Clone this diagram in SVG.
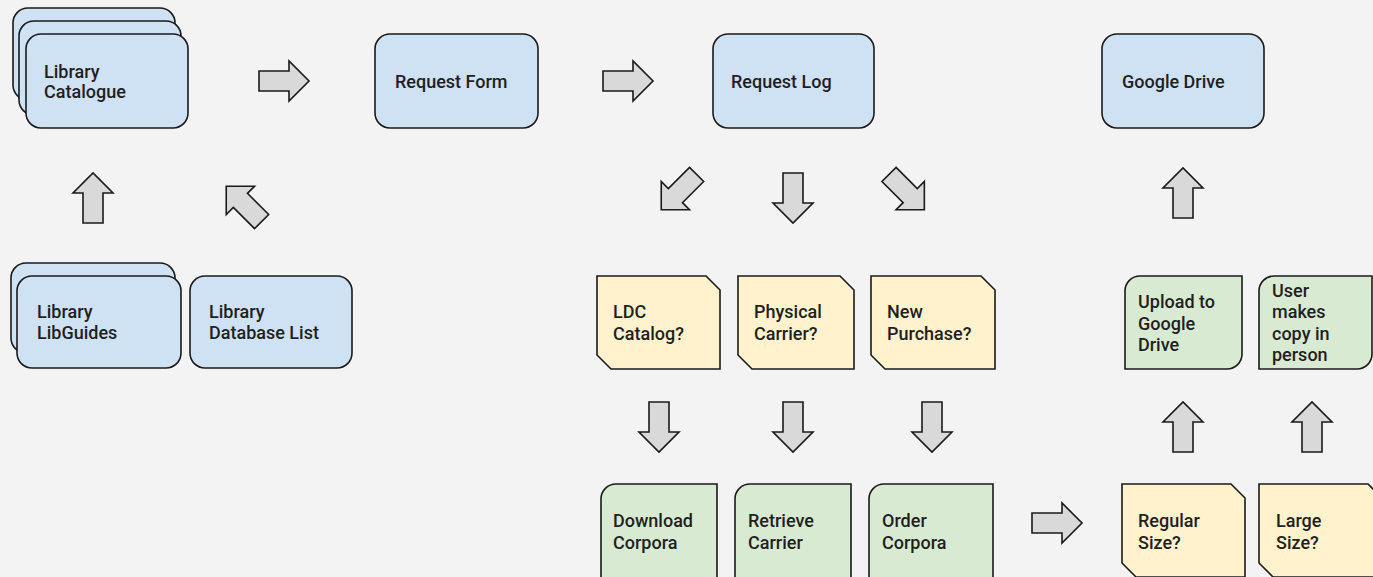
<svg xmlns="http://www.w3.org/2000/svg" xmlns:xlink="http://www.w3.org/1999/xlink" width="1373" height="577" viewBox="0 0 1373 577">
  <defs>
    <style>
      .blue { fill: #cfe2f3; stroke: #1a1a1a; stroke-width: 1.6; }
      .yellow { fill: #fff2cc; stroke: #1a1a1a; stroke-width: 1.6; }
      .green { fill: #d9ead3; stroke: #1a1a1a; stroke-width: 1.6; }
      .arrow { fill: #d9d9d9; stroke: #1a1a1a; stroke-width: 1.6; stroke-linejoin: miter; }
      text { font-family: Roboto, "Liberation Sans", sans-serif; font-weight: 500; font-size: 18px; fill: #1f1f1f; }
    </style>
    <!-- block arrow pointing right; origin at the middle of its tail -->
    <path id="blk" class="arrow" d="M0,-10 H30 V-20 L50,0 L30,20 V10 H0 Z"/>
  </defs>

  <rect width="1373" height="577" fill="#f3f3f3"/>

  <!-- top row -->
  <g id="library-catalogue">
    <rect class="blue" x="13" y="8" width="162" height="92" rx="15"/>
    <rect class="blue" x="19" y="21" width="162" height="94" rx="15"/>
    <rect class="blue" x="26" y="34" width="162" height="94" rx="15"/>
    <text x="44" y="78">Library</text>
    <text x="44" y="98">Catalogue</text>
  </g>
  <g id="request-form">
    <rect class="blue" x="375" y="34" width="163" height="94" rx="15"/>
    <text x="395" y="88">Request Form</text>
  </g>
  <g id="request-log">
    <rect class="blue" x="713" y="34" width="161" height="94" rx="15"/>
    <text x="731" y="88">Request Log</text>
  </g>
  <g id="google-drive">
    <rect class="blue" x="1102" y="34" width="162" height="94" rx="15"/>
    <text x="1122" y="88">Google Drive</text>
  </g>

  <!-- library sources -->
  <g id="library-libguides">
    <rect class="blue" x="11" y="263" width="164" height="90" rx="15"/>
    <rect class="blue" x="17" y="276" width="164" height="92" rx="15"/>
    <text x="37" y="318">Library</text>
    <text x="37" y="339">LibGuides</text>
  </g>
  <g id="library-database-list">
    <rect class="blue" x="190" y="276" width="162" height="92" rx="15"/>
    <text x="209" y="318">Library</text>
    <text x="209" y="339">Database List</text>
  </g>

  <!-- decision notes -->
  <g id="ldc-catalog">
    <path class="yellow" d="M597,276 H706 L720,290 V369 H611 L597,355 Z"/>
    <text x="613" y="318">LDC</text>
    <text x="613" y="340">Catalog?</text>
  </g>
  <g id="physical-carrier">
    <path class="yellow" d="M738,276 H840 L854,290 V369 H752 L738,355 Z"/>
    <text x="754" y="318">Physical</text>
    <text x="754" y="340">Carrier?</text>
  </g>
  <g id="new-purchase">
    <path class="yellow" d="M871,276 H981 L995,290 V369 H885 L871,355 Z"/>
    <text x="887" y="318">New</text>
    <text x="887" y="340">Purchase?</text>
  </g>
  <g id="regular-size">
    <path class="yellow" d="M1122,484 H1231 L1245,498 V577 H1136 L1122,563 Z"/>
    <text x="1138" y="527">Regular</text>
    <text x="1138" y="549">Size?</text>
  </g>
  <g id="large-size">
    <path class="yellow" d="M1259,484 H1368 L1382,498 V577 H1273 L1259,563 Z"/>
    <text x="1276" y="527">Large</text>
    <text x="1276" y="549">Size?</text>
  </g>

  <!-- actions -->
  <g id="download-corpora">
    <path class="green" d="M616,484 H717 V585 A15,15 0 0 1 702,600 H601 V499 A15,15 0 0 1 616,484 Z"/>
    <text x="613" y="527">Download</text>
    <text x="613" y="549">Corpora</text>
  </g>
  <g id="retrieve-carrier">
    <path class="green" d="M750,484 H851 V585 A15,15 0 0 1 836,600 H735 V499 A15,15 0 0 1 750,484 Z"/>
    <text x="748" y="527">Retrieve</text>
    <text x="748" y="549">Carrier</text>
  </g>
  <g id="order-corpora">
    <path class="green" d="M884,484 H993 V585 A15,15 0 0 1 978,600 H869 V499 A15,15 0 0 1 884,484 Z"/>
    <text x="882" y="527">Order</text>
    <text x="882" y="549">Corpora</text>
  </g>
  <g id="upload-to-google-drive">
    <path class="green" d="M1140,276 H1242 V354 A15,15 0 0 1 1227,369 H1125 V291 A15,15 0 0 1 1140,276 Z"/>
    <text x="1138" y="308">Upload to</text>
    <text x="1138" y="330">Google</text>
    <text x="1138" y="351">Drive</text>
  </g>
  <g id="user-makes-copy">
    <path class="green" d="M1274,276 H1372 V354 A15,15 0 0 1 1357,369 H1259 V291 A15,15 0 0 1 1274,276 Z"/>
    <text x="1272" y="297">User</text>
    <text x="1272" y="318">makes</text>
    <text x="1272" y="340">copy in</text>
    <text x="1272" y="361">person</text>
  </g>

  <!-- connectors -->
  <g id="connectors">
    <use xlink:href="#blk" transform="translate(259,81)"/>
    <use xlink:href="#blk" transform="translate(603,81)"/>
    <use xlink:href="#blk" transform="translate(93,223) rotate(-90)"/>
    <use xlink:href="#blk" transform="translate(261.6,221.6) rotate(-135)"/>
    <use xlink:href="#blk" transform="translate(696.6,174.4) rotate(135)"/>
    <use xlink:href="#blk" transform="translate(793,173) rotate(90)"/>
    <use xlink:href="#blk" transform="translate(889,174.4) rotate(45)"/>
    <use xlink:href="#blk" transform="translate(659,402) rotate(90)"/>
    <use xlink:href="#blk" transform="translate(793,402) rotate(90)"/>
    <use xlink:href="#blk" transform="translate(932,402) rotate(90)"/>
    <use xlink:href="#blk" transform="translate(1032,523)"/>
    <use xlink:href="#blk" transform="translate(1183,452) rotate(-90)"/>
    <use xlink:href="#blk" transform="translate(1312,452) rotate(-90)"/>
    <use xlink:href="#blk" transform="translate(1183,218) rotate(-90)"/>
  </g>
</svg>
